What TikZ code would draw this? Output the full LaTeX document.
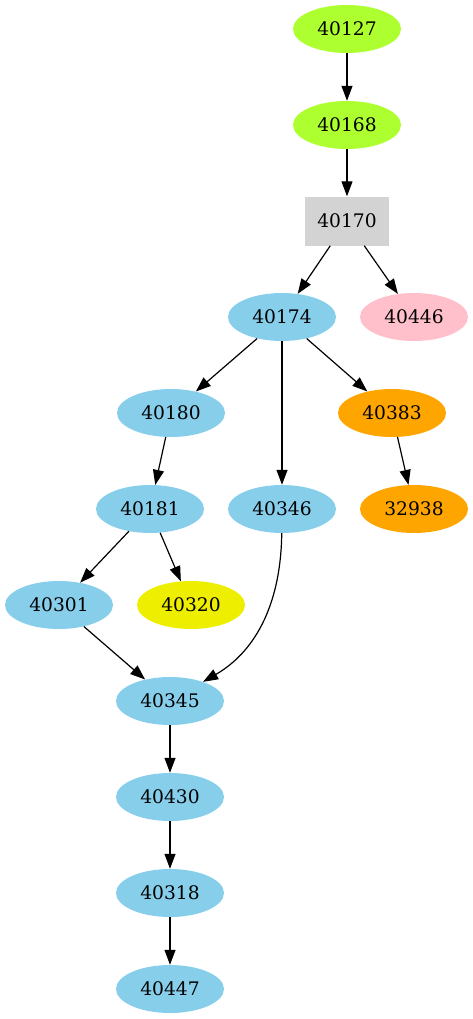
\documentclass[tikz,border=0pt]{standalone}
\usepackage{fontspec}
\setmainfont{DejaVu Serif}
\usetikzlibrary{arrows.meta,shapes.geometric}
\definecolor{cgreen}{HTML}{ADFF2F}
\definecolor{cgray}{HTML}{D3D3D3}
\definecolor{csky}{HTML}{87CEEB}
\definecolor{cpink}{HTML}{FFC0CB}
\definecolor{corange}{HTML}{FFA500}
\definecolor{cyellow}{HTML}{EEEE00}
\begin{document}
\begin{tikzpicture}[x=1pt,y=-1pt,
  lbl/.style={font=\fontsize{18.67}{20}\selectfont, text=black},
  el/.style={lbl, ellipse, minimum width=108pt, minimum height=48pt, inner sep=0pt, draw=none},
  bx/.style={lbl, rectangle, minimum width=84pt, minimum height=49pt, inner sep=0pt, draw=none},
  edge/.style={-{Triangle[length=15pt,width=11pt]}, line width=1.2pt, black}]
\useasboundingbox (0,0) rectangle (473,1019);
\node[el, fill=cgreen] (n40127) at (347,29) {40127};
\node[el, fill=cgreen] (n40168) at (347,125) {40168};
\node[bx, fill=cgray] (n40170) at (347,221) {40170};
\node[el, fill=csky] (n40174) at (282,317) {40174};
\node[el, fill=cpink] (n40446) at (414,317) {40446};
\node[el, fill=csky] (n40180) at (171,413) {40180};
\node[el, fill=corange] (n40383) at (392,413) {40383};
\node[el, fill=csky] (n40181) at (150,509) {40181};
\node[el, fill=csky] (n40346) at (282,509) {40346};
\node[el, fill=corange] (n32938) at (414,509) {32938};
\node[el, fill=csky] (n40301) at (59,605) {40301};
\node[el, fill=cyellow] (n40320) at (191,605) {40320};
\node[el, fill=csky] (n40345) at (170,701) {40345};
\node[el, fill=csky] (n40430) at (170,797) {40430};
\node[el, fill=csky] (n40318) at (170,893) {40318};
\node[el, fill=csky] (n40447) at (170,989) {40447};
\draw[edge] (n40127) -- (n40168);
\draw[edge] (n40168) -- (n40170);
\draw[edge] (n40170) -- (n40174);
\draw[edge] (n40170) -- (n40446);
\draw[edge] (n40174) -- (n40180);
\draw[edge] (n40174) -- (n40346);
\draw[edge] (n40174) -- (n40383);
\draw[edge] (n40180) -- (n40181);
\draw[edge] (n40383) -- (n32938);
\draw[edge] (n40181) -- (n40301);
\draw[edge] (n40181) -- (n40320);
\draw[edge] (n40346) .. controls (281,600) and (258,650) .. (n40345);
\draw[edge] (n40301) -- (n40345);
\draw[edge] (n40345) -- (n40430);
\draw[edge] (n40430) -- (n40318);
\draw[edge] (n40318) -- (n40447);
\end{tikzpicture}
\end{document}
